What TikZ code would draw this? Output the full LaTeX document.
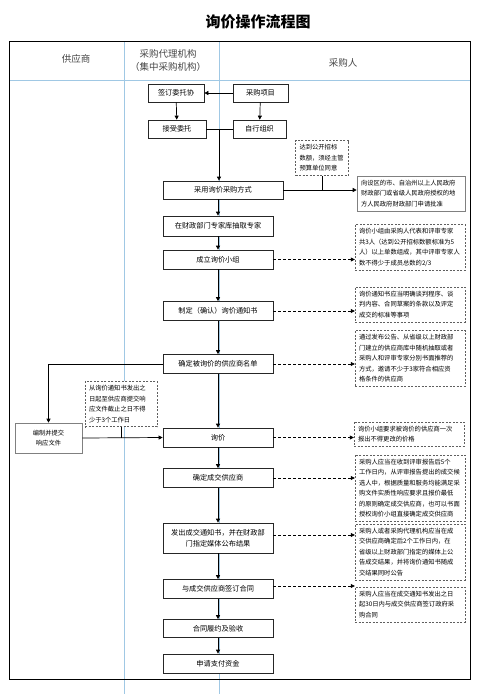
\documentclass[tikz,border=0pt]{standalone}
\usepackage{fontspec}
\setmainfont{Noto Sans CJK SC}
\usetikzlibrary{positioning, arrows.meta}
\definecolor{laneblue}{RGB}{160,200,228}
\definecolor{notegray}{RGB}{95,95,95}
\definecolor{headgray}{RGB}{70,70,70}

\begin{document}
\begin{tikzpicture}[x=1pt, y=-1pt,
    flowbox/.style={rectangle, draw=black!85, line width=0.7pt, fill=white,
                    minimum width=110pt, minimum height=18pt, inner sep=1pt,
                    font=\fontsize{7.2}{11}\selectfont, align=center},
    notebox/.style={rectangle, draw=notegray, dash pattern=on 2pt off 1.5pt,
                    fill=white, text width=102pt, inner sep=4pt, align=left,
                    font=\fontsize{6.3}{10.5}\selectfont},
    solidnote/.style={notebox, solid, draw=gray, line width=0.6pt},
    flow/.style={-{Triangle[length=4pt,width=4pt]}, line width=0.7pt},
    noteflow/.style={flow, dash pattern=on 3pt off 2pt},
    headtext/.style={font=\fontsize{9.5}{13}\selectfont, text=headgray, align=center}]
  \useasboundingbox (0,0) rectangle (489,694);

  % title and lanes
  \node[font=\fontsize{15}{18}\selectfont\bfseries] (title) at (258,22) {询价操作流程图};
  \draw[laneblue, line width=0.6pt] (124,41) -- (124,694);
  \draw[laneblue, line width=0.6pt] (219,41) -- (219,694);
  \draw[laneblue, line width=0.6pt] (9,80) -- (470,80);
  \draw[line width=0.8pt] (9,41) rectangle (470,679);
  \node[headtext] (lanesup) at (76,59) {供应商};
  \node[headtext] (laneagent) at (168,60) {采购代理机构\\（集中采购机构）};
  \node[headtext] (lanebuyer) at (343,63) {采购人};

  % top part
  \node[flowbox, minimum width=56pt] (qianding) at (176,93) {签订委托协};
  \node[flowbox, minimum width=55pt] (xiangmu) at (260.5,93) {采购项目};
  \node[flowbox, minimum width=58pt] (jieshou) at (177,129) {接受委托};
  \node[flowbox, minimum width=53pt] (zixing) at (259.5,129) {自行组织};
  \coordinate (merge) at (219,129);
  \draw[flow] (xiangmu) -- (qianding);
  \draw[flow] (qianding) -- (jieshou);
  \draw[flow] (xiangmu) -- (zixing);
  \draw[line width=0.7pt] (jieshou.east) -- (zixing.west);

  % main flow
  \node[flowbox, minimum width=120pt] (caiyong) at (223,190) {采用询价采购方式};
  \node[flowbox, minimum height=20pt] (chouqu) at (218,226) {在财政部门专家库抽取专家};
  \node[flowbox, minimum height=19pt] (chengli) at (218,259.5) {成立询价小组};
  \node[flowbox, minimum height=19pt] (zhiding) at (218,311) {制定（确认）询价通知书};
  \node[flowbox, minimum height=19pt] (mingdan) at (218,364) {确定被询价的供应商名单};
  \node[flowbox, minimum height=19pt] (xunjia) at (218,437.5) {询价};
  \node[flowbox, minimum height=19pt] (chengjiao) at (218,478) {确定成交供应商};
  \node[flowbox, minimum height=30pt] (fachu) at (218,538) {发出成交通知书，并在财政部\\门指定媒体公布结果};
  \node[flowbox, minimum height=19pt] (qianhe) at (218,589) {与成交供应商签订合同};
  \node[flowbox, minimum height=18pt] (lvyue) at (218,628.5) {合同履约及验收};
  \node[flowbox, minimum height=19pt] (zhifu) at (218,663.5) {申请支付资金};
  \draw[flow] (merge) -- (merge |- caiyong.north);
  \draw[flow] (caiyong.south -| chouqu.north) -- (chouqu.north);
  \draw[flow] (chouqu) -- (chengli);
  \draw[flow] (chengli) -- (zhiding);
  \draw[flow] (zhiding) -- (mingdan);
  \draw[flow] (mingdan) -- (xunjia);
  \draw[flow] (xunjia) -- (chengjiao);
  \draw[flow] (chengjiao) -- (fachu);
  \draw[flow] (fachu) -- (qianhe);
  \draw[flow] (qianhe) -- (lvyue);
  \draw[flow] (lvyue) -- (zhifu);

  % approval branch
  \node[notebox, text width=45pt] (yusuan) at (322,158) {达到公开招标\\数额，须经主管\\预算单位同意};
  \node[solidnote, text width=100pt] (shenqing) at (411,193.5) {向设区的市、自治州以上人民政府\\财政部门或省级人民政府授权的地\\方人民政府财政部门申请批准};
  \draw[flow] (caiyong.east) -- (caiyong.east -| shenqing.west);
  \draw[line width=0.7pt] (yusuan.south) -- (yusuan.south |- caiyong.east);

  % notes on the right
  \node[notebox] (xiaozu) at (410,247.5) {询价小组由采购人代表和评审专家\\共3人（达到公开招标数额标准为5\\人）以上单数组成，其中评审专家人\\数不得少于成员总数的2/3};
  \node[notebox] (tongzhi) at (410,304.5) {询价通知书应当明确谈判程序、谈\\判内容、合同草案的条款以及评定\\成交的标准等事项};
  \node[notebox] (gonggao) at (410,358.5) {通过发布公告、从省级以上财政部\\门建立的供应商库中随机抽取或者\\采购人和评审专家分别书面推荐的\\方式，邀请不少于3家符合相应资\\格条件的供应商};
  \node[notebox] (baojia) at (409,434) {询价小组要求被询价的供应商一次\\报出不得更改的价格};
  \node[notebox] (queding) at (410,488) {采购人应当在收到评审报告后5个\\工作日内，从评审报告提出的成交候\\选人中，根据质量和服务均能满足采\\购文件实质性响应要求且报价最低\\的原则确定成交供应商，也可以书面\\授权询价小组直接确定成交供应商};
  \node[notebox] (gongbu) at (410,552) {采购人或者采购代理机构应当在成\\交供应商确定后2个工作日内，在\\省级以上财政部门指定的媒体上公\\告成交结果，并将询价通知书随成\\交结果同时公告};
  \node[notebox] (hetong) at (410,604.5) {采购人应当在成交通知书发出之日\\起30日内与成交供应商签订政府采\\购合同};
  \draw[noteflow] (chengli.east) -- (chengli.east -| xiaozu.west);
  \draw[noteflow] (zhiding.east) -- (zhiding.east -| tongzhi.west);
  \draw[noteflow] (mingdan.east) -- (mingdan.east -| gonggao.west);
  \draw[noteflow] (xunjia.east) -- (xunjia.east -| baojia.west);
  \draw[noteflow] (chengjiao.east) -- (chengjiao.east -| queding.west);
  \draw[noteflow] ([yshift=3pt]fachu.east) -- ([yshift=3pt]fachu.east -| gongbu.west);
  \draw[noteflow] ([yshift=3pt]qianhe.east) -- ([yshift=3pt]qianhe.east -| hetong.west);

  % supplier side
  \node[notebox, text width=64pt] (qixian) at (121,404) {从询价通知书发出之\\日起至供应商提交响\\应文件截止之日不得\\少于3个工作日};
  \node[solidnote, text width=59pt, minimum height=30pt, align=center] (bianzhi) at (48.5,438) {编制并提交\\响应文件};
  \draw[flow] (mingdan.west) -| (bianzhi.north);
  \draw[flow] (bianzhi.east) -- (xunjia.west);
  \draw[line width=0.7pt] (qixian.south) -- (qixian.south |- xunjia.west);
\end{tikzpicture}
\end{document}
